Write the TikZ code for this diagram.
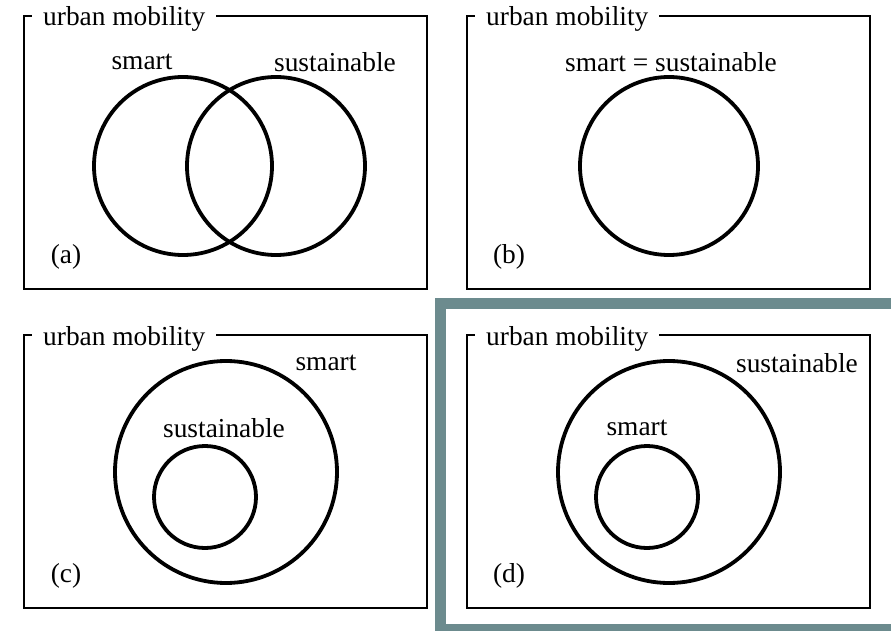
\documentclass[tikz,border=0pt]{standalone}
\usepackage{fontspec}
\setmainfont{Liberation Serif}
\usetikzlibrary{calc}
\definecolor{frameteal}{RGB}{108,139,142}

\begin{document}
\begin{tikzpicture}[x=1bp,y=-1bp,
	frame/.style={line width=2.8bp},
	ring/.style={line width=3.8bp},
	title/.style={anchor=base west,fill=white,inner xsep=11bp,inner ysep=2bp},
	setname/.style={inner sep=0pt},
	every node/.style={font=\fontsize{27.5}{31}\selectfont}]

\clip (0,0) rectangle (891,631);
\fill[white] (0,0) rectangle (891,631);

% A box with its "urban mobility" title and panel tag
\newcommand{\urbanbox}[2]{% corner (#1), panel letter #2
	\draw[frame] (#1) rectangle ++(403,273);
	\node[title] (title#2) at ($(#1)+(8,10)$) {urban mobility};
	\node[setname] (tag#2) at ($(#1)+(42,241)$) {(#2)};
}

\coordinate (A) at (24,16);
\coordinate (B) at (467,16);
\coordinate (C) at (24,335);
\coordinate (D) at (467,335);

% highlight frame round (d)
\draw[frameteal,line width=11bp] (440.5,303.5) rectangle (920,629.5);

\urbanbox{A}{a}
\urbanbox{B}{b}
\urbanbox{C}{c}
\urbanbox{D}{d}

% (a) overlapping sets
\draw[ring] ($(A)+(159,150)$) circle[radius=89bp];
\draw[ring] ($(A)+(252,150)$) circle[radius=89bp];
\node[setname] (smartA) at ($(A)+(118,46)$) {smart};
\node[setname] (sustA) at ($(A)+(311,46)$) {sustainable};

% (b) same set
\draw[ring] ($(B)+(202,150)$) circle[radius=89bp];
\node[setname] (sameB) at ($(B)+(204,46)$) {smart = sustainable};

% (c) sustainable inside smart
\draw[ring] ($(C)+(202,137)$) circle[radius=111bp];
\draw[ring] ($(C)+(181,162)$) circle[radius=51bp];
\node[setname] (smartC) at ($(C)+(302,28)$) {smart};
\node[setname] (sustC) at ($(C)+(200,93)$) {sustainable};

% (d) smart inside sustainable
\draw[ring] ($(D)+(202,137)$) circle[radius=111bp];
\draw[ring] ($(D)+(180,162)$) circle[radius=51bp];
\node[setname] (sustD) at ($(D)+(330,28)$) {sustainable};
\node[setname] (smartD) at ($(D)+(170,93)$) {smart};
\end{tikzpicture}
\end{document}
